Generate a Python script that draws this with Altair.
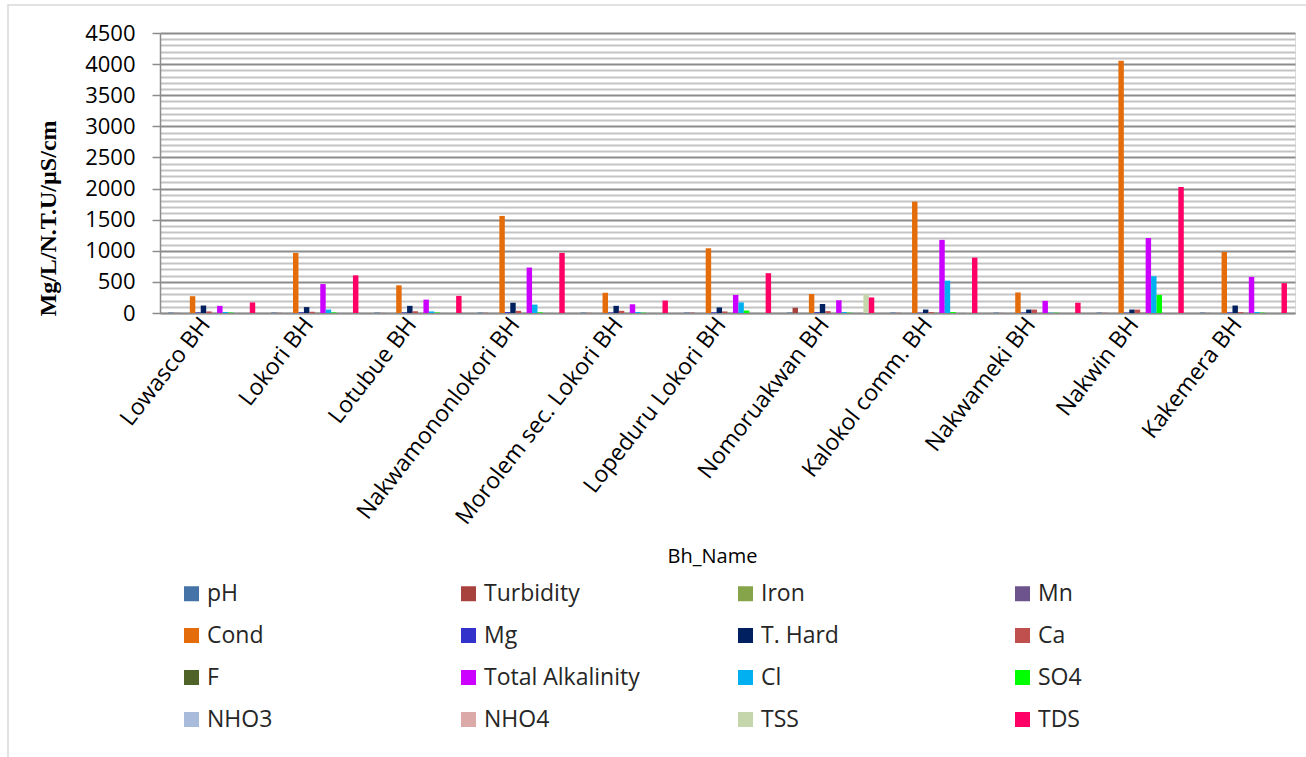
import altair as alt
import pandas as pd

sites = ["Lowasco BH", "Lokori BH", "Lotubue BH", "Nakwamononlokori BH",
         "Morolem sec. Lokori BH", "Lopeduru Lokori BH", "Nomoruakwan BH",
         "Kalokol comm. BH", "Nakwameki BH", "Nakwin BH", "Kakemera BH"]

params = ["pH", "Turbidity", "Iron", "Mn", "Cond", "Mg", "T. Hard", "Ca",
          "F", "Total Alkalinity", "Cl", "SO4", "NHO3", "NHO4", "TSS", "TDS"]

colors = ["#4573A7", "#A8423F", "#86A44A", "#6E548D", "#E46C0A", "#3333CC",
          "#002060", "#C0504D", "#4F6228", "#CC00FF", "#00B0F0", "#00FF00",
          "#A9BBDA", "#DBA9A8", "#C6D6AC", "#FF0066"]

pH        = [7.5, 7.8, 7.4, 7.6, 7.3, 7.7, 7.9, 8.1, 7.5, 8.0, 7.6]
turbidity = [2, 3, 2, 4, 3, 6, 85, 3, 2, 3, 2]
iron      = [0.1, 0.2, 0.1, 0.2, 0.1, 0.2, 0.3, 0.1, 0.1, 0.2, 0.1]
mn        = [0.05, 0.05, 0.04, 0.05, 0.03, 0.05, 0.06, 0.04, 0.03, 0.05, 0.04]
cond      = [270, 965, 445, 1560, 325, 1040, 305, 1790, 330, 4055, 980]
mg        = [10, 12, 10, 15, 9, 11, 14, 6, 8, 7, 10]
t_hard    = [120, 95, 115, 165, 115, 90, 145, 55, 55, 55, 120]
ca        = [25, 20, 30, 35, 35, 25, 30, 15, 55, 55, 15]
f         = [1, 2, 1, 2, 1, 2, 1, 3, 1, 3, 2]
total_alk = [115, 465, 215, 730, 140, 290, 205, 1175, 195, 1205, 580]
cl        = [15, 55, 25, 135, 15, 170, 15, 520, 5, 590, 15]
so4       = [8, 10, 8, 10, 6, 40, 6, 15, 5, 290, 6]
nho3      = [1, 1, 1, 1, 1, 1, 1, 1, 1, 1, 1]
nho4      = [0.5, 0.5, 0.5, 0.5, 0.5, 0.5, 0.5, 0.5, 0.5, 0.5, 0.5]
tss       = [2, 3, 2, 3, 2, 3, 300, 8, 2, 3, 2]
tds       = [170, 605, 275, 965, 200, 640, 250, 890, 165, 2025, 480]

series = [pH, turbidity, iron, mn, cond, mg, t_hard, ca, f, total_alk, cl,
          so4, nho3, nho4, tss, tds]

rows = []
for p, vals in zip(params, series):
    for s, v in zip(sites, vals):
        rows.append({"site": s, "param": p, "value": v})
df = pd.DataFrame(rows)

FONT = "Open Sans"

bars = alt.Chart(df).mark_bar().encode(
    x=alt.X("site:N", sort=sites,
            scale=alt.Scale(paddingInner=0.155, paddingOuter=0.078),
            axis=alt.Axis(title="Bh_Name", labelAngle=-52, labelAlign="right",
                          labelBaseline="middle", labelPadding=7, labelOffset=-6,
                          labelFontSize=23, labelFont=FONT, labelColor="#000000",
                          labelLimit=400, ticks=False, domainColor="#8c8c8c",
                          domainWidth=1.5,
                          titleFont=FONT, titleFontSize=20, titleFontWeight="normal",
                          titleColor="#000000", titleX=552, titleY=243,
                          titleAlign="center", titleBaseline="middle")),
    xOffset=alt.XOffset("param:N", sort=params,
                        scale=alt.Scale(paddingInner=0, paddingOuter=0)),
    y=alt.Y("value:Q", scale=alt.Scale(domain=[0, 4500], nice=False),
            axis=alt.Axis(title="Mg/L/N.T.U/µS/cm",
                          values=list(range(0, 4501, 100)),
                          labelExpr="datum.value % 500 === 0 ? datum.label : ''",
                          format="d", labelFontSize=22, labelFont=FONT,
                          labelColor="#000000", labelPadding=17,
                          tickSize=8, tickColor="#8c8c8c", tickWidth=1.5,
                          tickOpacity=alt.condition("datum.value % 500 === 0",
                                                    alt.value(1), alt.value(0)),
                          grid=True,
                          gridColor=alt.condition("datum.value % 500 === 0",
                                                  alt.value("#8c8c8c"),
                                                  alt.value("#c4c4c4")),
                          gridWidth=2,
                          domainColor="#8c8c8c", domainWidth=1.5,
                          titleFont="Liberation Serif", titleFontSize=24,
                          titleFontWeight="bold", titleColor="#000000",
                          titleX=-112, titleY=185, titleAngle=-90,
                          titleAlign="center", titleBaseline="middle")),
    color=alt.Color("param:N", sort=params,
                    scale=alt.Scale(domain=params, range=colors),
                    legend=alt.Legend(orient="none", legendX=20, legendY=549,
                                      title=None, columns=4, direction="horizontal",
                                      gridAlign="all", symbolType="square",
                                      symbolSize=225, symbolStrokeWidth=0,
                                      labelFont=FONT, labelFontSize=23,
                                      labelColor="#262626", labelOffset=4,
                                      labelLimit=300, rowPadding=18,
                                      columnPadding=94, padding=0)),
)

border = alt.Chart(pd.DataFrame({"a": [0]})).mark_rect(
    filled=False, stroke="#d9d9d9", strokeWidth=1.5, clip=False
).encode(x=alt.value(-152), x2=alt.value(1160), y=alt.value(-28), y2=alt.value(740))

chart = alt.layer(border, bars).properties(
    width=1135, height=280,
    autosize=alt.AutoSizeParams(type="none"),
    padding={"left": 160, "top": 33, "right": 11, "bottom": 444},
).configure_view(stroke=None).configure(background="#ffffff")

chart.save("out.html", embed_options={"renderer": "svg", "actions": False})
